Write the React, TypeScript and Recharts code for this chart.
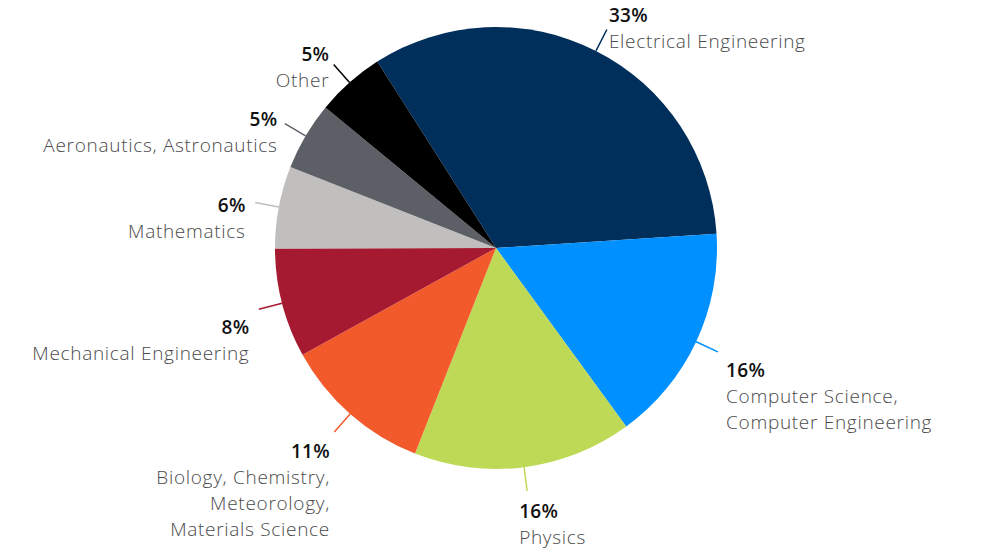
import { PieChart, Pie, Cell } from 'recharts';

const fields = [
  'Electrical Engineering',
  'Computer Science,\nComputer Engineering',
  'Physics',
  'Biology, Chemistry,\nMeteorology,\nMaterials Science',
  'Mechanical Engineering',
  'Mathematics',
  'Aeronautics, Astronautics',
  'Other',
];
const shares = [33, 16, 16, 11, 8, 6, 5, 5];
const colors = ['#002F5B', '#0090FF', '#BDD956', '#F35A2B', '#A51931', '#C1BFBD', '#5C5F66', '#000000'];

const data = fields.map((name, i) => ({ name, value: shares[i] }));

const RAD = Math.PI / 180;

const renderLabel = (props: any) => {
  const { cx, cy, midAngle, outerRadius, index, value } = props;
  const cos = Math.cos(-midAngle * RAD);
  const sin = Math.sin(-midAngle * RAD);
  const sx = cx + outerRadius * cos;
  const sy = cy + outerRadius * sin;
  const ex = cx + (outerRadius + 24) * cos;
  const ey = cy + (outerRadius + 24) * sin;
  const lines = fields[index].split('\n');
  const lh = 26;
  const h = lh * (lines.length + 1);
  // labels above the centre hang around the line end, labels below start under it
  const top = sin < 0 ? ey - (0.1 - 0.45 * sin) * h : ey + 5 + 3 * sin;
  const anchor = cos >= 0 ? 'start' : 'end';
  const tx = Math.abs(cos) < 0.3 ? ex - 8 : ex + 10 * cos * Math.abs(cos);
  return (
    <g>
      <line x1={sx} y1={sy} x2={ex} y2={ey} stroke={colors[index]} strokeWidth={1.5} />
      <text x={tx} y={top + 19} textAnchor={anchor} fill="#111" fontSize={19} fontWeight={600} letterSpacing={0.3}>
        {value}%
      </text>
      {lines.map((l, i) => (
        <text
          key={i}
          x={tx}
          y={top + 19 + lh * (i + 1)}
          textAnchor={anchor}
          fill="#4a4a4a"
          fontSize={19}
          fontWeight={300}
          letterSpacing={0.7}
        >
          {l}
        </text>
      ))}
    </g>
  );
};

const App = () => {
  return (
    <div style={{ position: 'absolute', left: 0, top: 0, width: 1000, height: 553, background: '#fff', fontFamily: '"Open Sans", sans-serif' }}>
      <PieChart width={1000} height={553} margin={{ top: 0, right: 0, bottom: 0, left: 0 }}>
        <Pie
          data={data}
          dataKey="value"
          cx={496}
          cy={248}
          outerRadius={221}
          startAngle={122.5}
          endAngle={-237.5}
          stroke="none"
          labelLine={false}
          label={renderLabel}
          isAnimationActive={false}
        >
          {data.map((entry, index) => (
            <Cell key={`cell-${index}`} fill={colors[index]} />
          ))}
        </Pie>
      </PieChart>
    </div>
  );
};

export default App;
